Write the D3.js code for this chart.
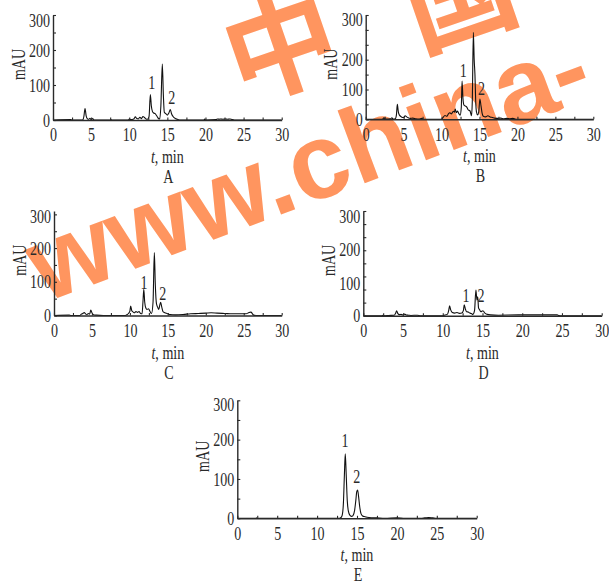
<!DOCTYPE html>
<html><head><meta charset="utf-8">
<script src="https://cdn.jsdelivr.net/npm/d3@7"></script>
<style>body{margin:0;background:#fff} svg{display:block}</style>
</head><body><svg id="c" width="609" height="582"></svg>
<script>
// ---- data: [time (min), absorbance (mAU)] ----
const traceA = [[0,0],[2.3,1],[2.5,0],[3.9,0],[4.05,10],[4.2,33],[4.35,12],[4.5,4],[4.7,2],[4.85,5],[5.0,1],[5.2,4],[5.4,0],[7.5,0],[7.6,1],[7.7,0],[9.9,0],[10.0,3],[10.2,1],[10.6,3],[10.8,9],[11.0,4],[11.2,3],[11.4,8],[11.6,4],[11.8,10],[12.0,7],[12.2,3],[12.4,2],[12.6,10],[12.77,73],[12.9,40],[13.05,24],[13.2,20],[13.4,18],[13.6,12],[13.8,5],[14.0,3],[14.15,40],[14.34,160],[14.48,70],[14.6,22],[14.8,18],[15.0,14],[15.2,20],[15.39,30],[15.55,18],[15.75,10],[16.0,5],[16.3,2],[16.6,0],[19.8,0],[19.9,3],[20.0,0],[21.4,1],[21.6,3],[21.8,2],[22.0,3],[22.3,2],[22.6,3],[22.9,2],[23.2,3],[23.5,1],[23.8,0],[30,0]];
const traceB = [[0,0],[2.2,0],[2.4,5],[2.6,1],[3.3,2],[3.45,5],[3.6,1],[3.9,2],[4.05,15],[4.17,50],[4.3,25],[4.45,14],[4.7,8],[5.0,6],[5.2,12],[5.4,8],[5.6,5],[5.9,3],[6.2,4],[6.6,2],[7.0,1],[7.4,3],[7.7,0],[9.9,0],[10.1,3],[10.45,13],[10.7,10],[10.9,18],[11.1,22],[11.3,18],[11.55,27],[11.7,24],[11.8,34],[11.95,22],[12.1,28],[12.25,20],[12.45,14],[12.6,40],[12.7,128],[12.82,70],[12.95,48],[13.1,45],[13.3,42],[13.5,32],[13.75,28],[13.95,12],[14.05,60],[14.19,292],[14.3,200],[14.4,150],[14.5,60],[14.6,25],[14.75,15],[14.9,25],[15.05,68],[15.2,45],[15.35,20],[15.5,10],[15.8,8],[16.1,12],[16.4,8],[16.7,6],[17.0,4],[17.4,3],[17.8,4],[18.2,2],[18.6,3],[19.0,2],[19.4,3],[19.8,0],[30,0]];
const traceC = [[0,0],[2.0,1],[2.2,0],[3.4,0],[3.6,4],[3.8,6],[4.0,9],[4.15,5],[4.35,3],[4.55,6],[4.7,4],[4.85,16],[5.0,8],[5.2,2],[5.6,1],[6.5,0],[9.4,0],[9.6,2],[9.8,6],[10.0,13],[10.1,28],[10.25,14],[10.45,10],[10.6,8],[10.8,12],[11.0,9],[11.2,12],[11.4,6],[11.6,5],[11.72,40],[11.83,78],[11.95,40],[12.1,22],[12.25,18],[12.45,20],[12.65,12],[12.85,6],[13.05,40],[13.22,187],[13.35,90],[13.5,35],[13.65,25],[13.8,18],[13.95,32],[14.05,39],[14.2,25],[14.35,12],[14.6,8],[14.9,6],[15.3,3],[16,2],[17,3],[18,5],[19,6],[20,7],[20.7,8],[21.5,7],[22.5,6],[23.5,5],[24.5,5],[25.3,5],[25.7,9],[25.95,10],[26.15,5],[26.3,1],[27,0],[30,0]];
const traceD = [[0,0],[2.3,0],[2.5,2],[2.7,0],[3.2,1],[3.9,2],[4.05,8],[4.19,19],[4.35,8],[4.55,4],[4.75,5],[5.0,3],[5.2,6],[5.4,3],[5.7,2],[6.0,1],[6.8,2],[7.2,0],[9.8,0],[10.2,2],[10.6,6],[10.75,20],[10.86,38],[11.0,22],[11.2,12],[11.5,10],[11.8,12],[12.1,9],[12.4,10],[12.6,20],[12.7,42],[12.85,25],[13.0,15],[13.2,14],[13.4,10],[13.6,8],[13.8,5],[14.0,20],[14.17,98],[14.3,60],[14.4,72],[14.5,30],[14.65,22],[14.8,15],[15.05,19],[15.3,10],[15.6,5],[16,3],[17,2],[19.5,3],[20,3],[21,3],[22,3],[23,3],[24,3],[24.4,3],[24.6,1],[25,0],[30,0]];
const traceE = [[0,0],[2.3,0],[2.4,1],[2.5,0],[12.8,0],[13.0,2],[13.15,8],[13.3,40],[13.42,110],[13.53,164],[13.65,110],[13.78,45],[13.92,18],[14.1,8],[14.3,5],[14.5,7],[14.7,20],[14.85,45],[14.97,68],[15.08,72],[15.2,55],[15.35,28],[15.5,12],[15.7,6],[16,4],[16.5,2],[17.5,1],[18.5,0],[20,1],[21,0],[23,0],[23.5,1],[24,2],[24.5,1],[25,0],[30,0]];

const panelLetters = ["A","B","C","D","E"];
const peakNames = ["1","2"];
const yLabelValues = [0,100,200,300];
const xLabelValues = [0,5,10,15,20,25,30];
const xAxisTitle = ["t", ", min"];
const yAxisTitle = "mAU";
const watermarkLatin = "www.china-";
const watermarkCJK = ["中","国"];

// ---- layout (pixels) ----
const layout = [
  {trace: traceA, x0:53,    x1:281.7, y0:120,   yTop:15,    yMax:300, nudge:{300:5},   ann:[[12.95,108],[15.58,64]]},
  {trace: traceB, x0:365.7, x1:593.3, y0:119.3, yTop:15,    yMax:350, nudge:{300:-10}, ann:[[12.86,165],[15.28,104]]},
  {trace: traceC, x0:54,    x1:281.7, y0:315.5, yTop:211,   yMax:310, nudge:{300:2},   ann:[[11.86,97],[14.32,66]]},
  {trace: traceD, x0:363.3, x1:601.7, y0:315.7, yTop:211,   yMax:400, nudge:{100:-6,200:-13.5,300:-20.6}, ann:[[12.92,79],[14.8,79]]},
  {trace: traceE, x0:237.3, x1:476.7, y0:518.3, yTop:400.3, yMax:300, nudge:{300:4.6}, ann:[[13.5,199],[14.96,106]]}
];
const SX = 0.74, FS = 19, FONT = "'Liberation Serif','DejaVu Serif',serif", INK = "#2a2a2a";
const WM_COLOR = "#ff955f";
const cjkAngle = -19, cjkCenters = [[278, 38], [456, -13]];

const svg = d3.select("#c");
svg.append("rect").attr("width",609).attr("height",582).attr("fill","#fff");

// ---- watermark (behind the charts) ----
const wm = svg.append("g").attr("fill", WM_COLOR);
wm.append("text")
  .attr("transform","translate(44,303) rotate(-20.5)")
  .attr("font-family","'Liberation Sans',Arial,sans-serif").attr("font-weight","bold")
  .attr("font-size",107).text(watermarkLatin);
watermarkCJK.forEach((ch, k) => {
  wm.append("text")
    .attr("transform",`translate(${cjkCenters[k][0]},${cjkCenters[k][1]}) rotate(${cjkAngle})`)
    .attr("font-family","'Noto Sans CJK SC',sans-serif").attr("font-weight","bold")
    .attr("font-size",112).attr("text-anchor","middle").attr("dominant-baseline","central")
    .text(ch);
});

// ---- panels ----
layout.forEach((p, i) => {
  const x = d3.scaleLinear().domain([0,30]).range([p.x0, p.x1]);
  const y = d3.scaleLinear().domain([0,p.yMax]).range([p.y0, p.yTop]);
  const g = svg.append("g");

  // trace
  g.append("path").datum(p.trace)
    .attr("fill","none").attr("stroke","#111").attr("stroke-width",1.1).attr("stroke-linejoin","round")
    .attr("d", d3.line().x(d => x(d[0])).y(d => y(d[1])).curve(d3.curveMonotoneX));

  // y axis
  const ya = g.append("g").attr("transform",`translate(${p.x0},0)`)
    .call(d3.axisLeft(y).tickValues(d3.range(0, p.yMax + 0.01, 50))
      .tickSizeInner(-3).tickSizeOuter(0).tickPadding(4)
      .tickFormat(d => yLabelValues.includes(d) ? String(d) : ""));
  // x axis
  const xa = g.append("g").attr("transform",`translate(0,${p.y0})`)
    .call(d3.axisBottom(x).tickValues(d3.range(0, 30.01, 2.5))
      .tickSizeInner(-2.5).tickSizeOuter(0).tickPadding(8)
      .tickFormat(d => xLabelValues.includes(d) ? String(d) : ""));
  [ya, xa].forEach(a => {
    a.select(".domain").attr("stroke",INK).attr("stroke-width",1.4);
    a.selectAll(".tick line").attr("stroke",INK).attr("stroke-width",1.1);
    a.selectAll("text").attr("font-family",FONT).attr("font-size",FS).attr("fill",INK)
      .attr("transform",`scale(${SX},1)`);
  });
  ya.selectAll(".tick text").attr("y", d => p.nudge[d] || 0);

  // axis titles
  const cx = (p.x0 + p.x1) / 2;
  const xt = g.append("text").attr("transform",`translate(${cx},${p.y0 + 43}) scale(${SX},1)`)
    .attr("text-anchor","middle").attr("font-family",FONT).attr("font-size",FS).attr("fill",INK);
  xt.append("tspan").attr("font-style","italic").text(xAxisTitle[0]);
  xt.append("tspan").text(xAxisTitle[1]);
  g.append("text").attr("transform",`translate(${cx + 1},${p.y0 + 63}) scale(${SX},1)`)
    .attr("text-anchor","middle").attr("font-family",FONT).attr("font-size",FS).attr("fill",INK)
    .text(panelLetters[i]);
  g.append("text")
    .attr("transform",`translate(${p.x0 - 35},${(p.y0 + p.yTop) / 2 - 3}) rotate(-90) scale(${SX},1)`)
    .attr("text-anchor","middle").attr("dy","0.35em")
    .attr("font-family",FONT).attr("font-size",FS).attr("fill",INK).text(yAxisTitle);

  // peak labels
  p.ann.forEach((a, k) => {
    g.append("text").attr("transform",`translate(${x(a[0])},${y(a[1])}) scale(${SX},1)`)
      .attr("text-anchor","middle").attr("dy","0.35em")
      .attr("font-family",FONT).attr("font-size",FS).attr("fill",INK).text(peakNames[k]);
  });
});
</script></body></html>
